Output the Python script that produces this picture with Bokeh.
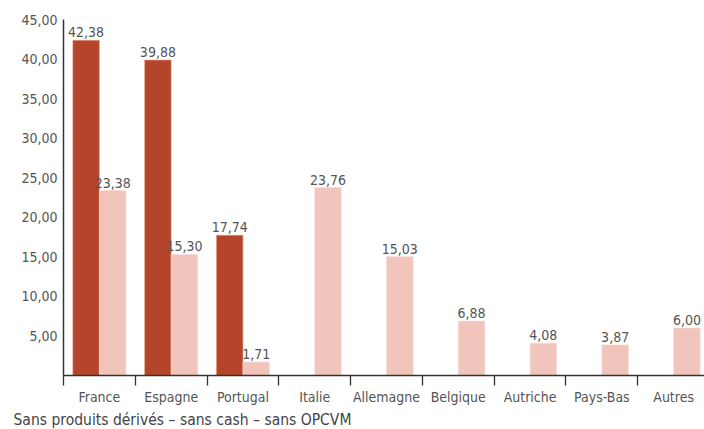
from bokeh.plotting import figure
from bokeh.models import ColumnDataSource, FixedTicker, Title, Range1d
from bokeh.core.properties import value
from bokeh.embed import file_html
from bokeh.resources import INLINE

categories = ["France", "Espagne", "Portugal", "Italie", "Allemagne",
              "Belgique", "Autriche", "Pays-Bas", "Autres"]
serie_fonce = [42.38, 39.88, 17.74]
serie_clair = [23.38, 15.30, 1.71, 23.76, 15.03, 6.88, 4.08, 3.87, 6.00]
y_ticks = [5, 10, 15, 20, 25, 30, 35, 40, 45]
y_tick_labels = ["5,00", "10,00", "15,00", "20,00", "25,00", "30,00", "35,00", "40,00", "45,00"]
footnote = "Sans produits dérivés – sans cash – sans OPCVM"

FONT = "'DejaVu Sans Condensed', Roboto, sans-serif"
DARK = "#B5452A"
LIGHT = "#F2C5BC"
TXT = "#555555"

def fmt(v):
    return f"{v:.2f}".replace(".", ",")

BW = 0.37
dark_src = ColumnDataSource(dict(
    x=[i + 0.5 - BW / 2 for i in range(len(serie_fonce))],
    top=serie_fonce,
    lab=[fmt(v) for v in serie_fonce]))
light_src = ColumnDataSource(dict(
    x=[i + 0.5 + BW / 2 for i in range(len(serie_clair))],
    top=serie_clair,
    lab=[fmt(v) for v in serie_clair]))

p = figure(width=704, height=429, output_backend="svg", toolbar_location=None,
           x_range=Range1d(0, 8.93), y_range=Range1d(0, 45),
           min_border_left=63, min_border_right=0, min_border_top=19,
           min_border_bottom=53)
p.outline_line_color = None
p.xgrid.visible = False
p.ygrid.visible = False
p.background_fill_color = "white"
p.border_fill_color = "white"

p.vbar(x="x", top="top", width=BW, bottom=0, source=dark_src,
       fill_color=DARK, line_color="#E9A58F", line_width=0.6)
p.vbar(x="x", top="top", width=BW, bottom=0, source=light_src,
       fill_color=LIGHT, line_color="#F7DCD5", line_width=0.6)

for src in (dark_src, light_src):
    p.text(x="x", y="top", text="lab", source=src, text_align="center",
           text_baseline="bottom", y_offset=-3,
           text_font=value(FONT), text_font_size="14px", text_color=TXT)

# x axis
p.xaxis.ticker = FixedTicker(ticks=[i + 0.5 for i in range(len(categories))],
                             minor_ticks=list(range(len(categories) + 1)))
p.xaxis.major_label_overrides = {i + 0.5: c for i, c in enumerate(categories)}
p.xaxis.major_tick_out = 0
p.xaxis.major_tick_in = 0
p.xaxis.minor_tick_out = 10
p.xaxis.minor_tick_in = 0
p.xaxis.minor_tick_line_color = "#333333"
p.xaxis.minor_tick_line_width = 1.3
p.xaxis.axis_line_color = "#333333"
p.xaxis.axis_line_width = 1.5
p.xaxis.major_label_text_font = FONT
p.xaxis.major_label_text_font_size = "14px"
p.xaxis.major_label_text_color = TXT
p.xaxis.major_label_standoff = 3

# y axis
p.yaxis.ticker = FixedTicker(ticks=y_ticks)
p.yaxis.major_label_overrides = {t: l for t, l in zip(y_ticks, y_tick_labels)}
p.yaxis.major_tick_out = 0
p.yaxis.major_tick_in = 0
p.yaxis.minor_tick_line_color = None
p.yaxis.axis_line_color = "#333333"
p.yaxis.axis_line_width = 1.5
p.yaxis.major_label_text_font = FONT
p.yaxis.major_label_text_font_size = "14px"
p.yaxis.major_label_text_color = TXT
p.yaxis.major_label_standoff = 6

note = Title(text=footnote, align="left", offset=-50, standoff=2,
             text_font=FONT, text_font_size="15.5px", text_font_style="normal",
             text_color="#444444")
p.add_layout(note, "below")

open("out.html", "w").write(file_html(p, INLINE))
